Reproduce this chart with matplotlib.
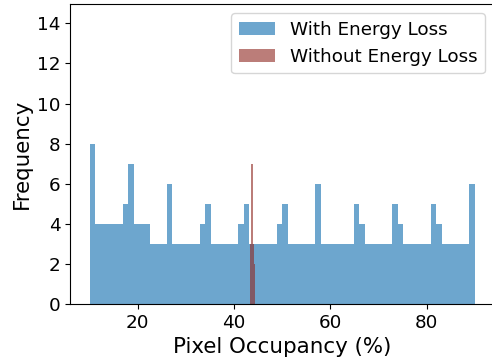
import numpy as np
import matplotlib
matplotlib.use("Agg")
import matplotlib.pyplot as plt

# the red histogram has sub-pixel bins, keep them from being merged away
plt.rcParams["path.simplify"] = False

# With energy loss: 70 equal bins between 10 and 90 %
with_range = (10, 90)
with_counts = [8, 4, 4, 4, 4, 4, 5, 7, 4, 4,
               4, 3, 3, 3, 6, 3, 3, 3, 3, 3,
               4, 5, 3, 3, 3, 3, 3, 4, 5, 3,
               3, 3, 3, 3, 4, 5, 3, 3, 3, 3,
               3, 6, 3, 3, 3, 3, 3, 3, 5, 4,
               3, 3, 3, 3, 3, 5, 4, 3, 3, 3,
               3, 3, 5, 4, 3, 3, 3, 3, 3, 6]

# Without energy loss: same number of bins, squeezed around 44 %
without_range = (43.3, 44.5)
without_counts = [1, 2, 2, 2, 3, 2, 3, 3, 4, 3, 5, 6,
                  6, 6, 7, 6, 7, 7, 7, 7, 7, 8, 9, 9,
                  9, 9, 9, 9, 9, 8, 8, 7, 7, 7, 7, 6,
                  5, 5, 4, 4, 3, 3, 4, 3, 3, 3, 2, 3,
                  2, 1, 1, 2, 1, 1, 1, 2, 1, 1, 1, 1,
                  1, 0, 1, 0, 1, 0, 0, 1, 0, 1]

labels = ["With Energy Loss", "Without Energy Loss"]

fig = plt.figure(figsize=(4.92, 3.64), dpi=100)
ax = fig.add_axes([0.1429, 0.1648, 0.8611, 0.8234])

edges_with = np.linspace(with_range[0], with_range[1], len(with_counts) + 1)
ax.hist(edges_with[:-1], bins=edges_with, weights=with_counts,
        color="#1f77b4", alpha=0.65, label=labels[0])

edges_without = np.linspace(without_range[0], without_range[1], len(without_counts) + 1)
ax.hist(edges_without[:-1], bins=edges_without, weights=without_counts,
        histtype="stepfilled", color="#8f2620", alpha=0.6, label=labels[1])

ax.set_ylim(0, 14.95)
ax.spines["right"].set_visible(False)  # cut off at the image edge in the original
ax.set_xlabel("Pixel Occupancy (%)", fontsize=15.4)
ax.set_ylabel("Frequency", fontsize=15.4)
ax.tick_params(labelsize=13.2)
ax.legend(loc="upper right", fontsize=13.2)

fig.savefig("out.png", dpi=100)
